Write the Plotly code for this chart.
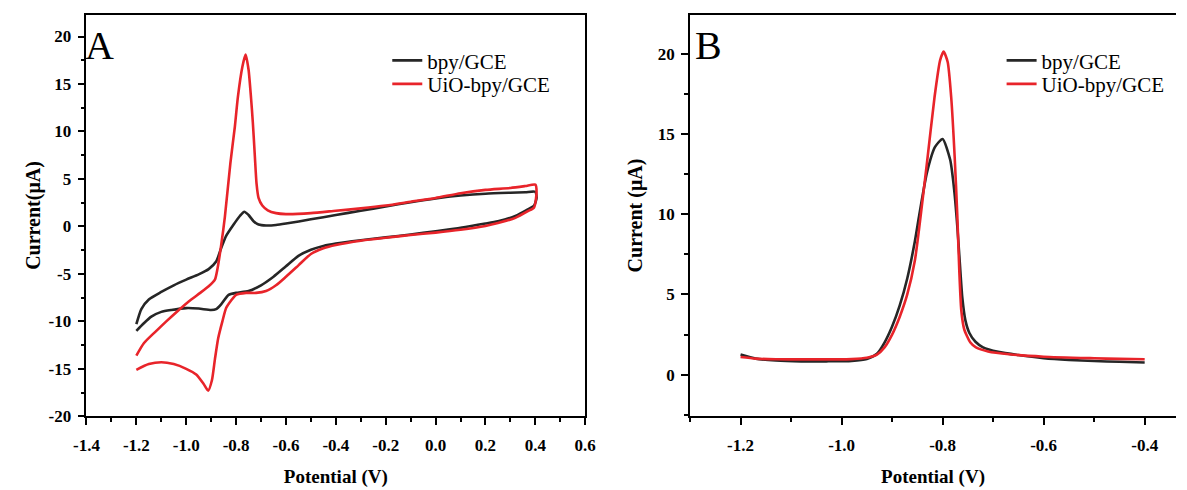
import plotly.graph_objects as go

# ---------------- Panel A: cyclic voltammograms ----------------
cv_bpy_V = [-1.2, -1.18, -1.15, -1.1, -1.05, -1.0, -0.95, -0.91, -0.88, -0.86, -0.84, -0.81, -0.785,
            -0.767, -0.75, -0.73, -0.71, -0.68, -0.64, -0.6, -0.5, -0.4, -0.3, -0.2, -0.1, 0.0, 0.1,
            0.2, 0.3, 0.36, 0.4,
            0.405, 0.395, 0.37, 0.32, 0.25, 0.2, 0.1, 0.0, -0.1, -0.2, -0.3, -0.4, -0.45, -0.5, -0.55,
            -0.6, -0.65, -0.7, -0.75, -0.8, -0.83, -0.86, -0.88, -0.9, -0.95, -1.0, -1.06, -1.1, -1.14,
            -1.17, -1.2]
cv_bpy_I = [-10.3, -8.7, -7.7, -6.9, -6.2, -5.6, -5.05, -4.5, -3.7, -2.3, -1.0, 0.2, 1.1,
            1.55, 1.2, 0.55, 0.2, 0.1, 0.15, 0.3, 0.75, 1.2, 1.65, 2.1, 2.55, 2.95, 3.25,
            3.45, 3.55, 3.6, 3.65,
            3.0, 2.2, 1.8, 1.1, 0.55, 0.3, -0.15, -0.5, -0.85, -1.15, -1.45, -1.8, -2.05, -2.45, -3.1,
            -4.2, -5.3, -6.2, -6.8, -7.0, -7.2, -8.2, -8.7, -8.8, -8.65, -8.6, -8.8, -9.0, -9.5,
            -10.2, -11.0]

cv_uio_V = [-1.2, -1.17, -1.124, -1.08, -1.034, -0.99, -0.944, -0.91, -0.885, -0.875, -0.86, -0.845,
            -0.823, -0.805, -0.793, -0.775, -0.762, -0.75, -0.74, -0.733, -0.725, -0.718, -0.71, -0.695,
            -0.673, -0.64, -0.6, -0.5, -0.4, -0.3, -0.2, -0.1, 0.0, 0.1, 0.2, 0.3, 0.36, 0.4,
            0.405, 0.395, 0.37, 0.32, 0.25, 0.2, 0.1, 0.0, -0.1, -0.2, -0.3, -0.4, -0.45, -0.5, -0.55,
            -0.6, -0.64, -0.68, -0.72, -0.76, -0.8, -0.82, -0.84, -0.855, -0.872, -0.885, -0.897,
            -0.912, -0.93, -0.96, -1.0, -1.05, -1.1, -1.15, -1.2]
cv_uio_I = [-13.6, -12.3, -11.1, -10.0, -8.9, -7.9, -7.0, -6.3, -5.6, -4.5, -2.0, 1.0,
            6.65, 10.5, 13.6, 16.8, 18.1, 16.5, 13.5, 11.0, 7.5, 4.5, 3.0, 2.2,
            1.7, 1.4, 1.3, 1.4, 1.65, 1.9, 2.2, 2.6, 3.0, 3.5, 3.85, 4.05, 4.25, 4.4,
            3.6, 2.0, 1.6, 0.9, 0.35, 0.05, -0.35, -0.65, -0.9, -1.2, -1.5, -1.95, -2.3, -2.9, -4.1,
            -5.3, -6.2, -6.8, -7.0, -7.0, -7.2, -7.8, -8.6, -10.0, -11.8, -14.0, -16.2,
            -17.3, -16.6, -15.6, -15.0, -14.5, -14.3, -14.5, -15.1]

# ---------------- Panel B: differential pulse voltammograms ----------------
dpv_bpy_V = [-1.2, -1.17, -1.13, -1.08, -1.03, -0.98, -0.95, -0.93, -0.915, -0.9, -0.885, -0.87,
             -0.855, -0.846, -0.831, -0.815, -0.8, -0.785, -0.777, -0.771, -0.766, -0.761, -0.755,
             -0.747, -0.735, -0.72, -0.69, -0.65, -0.6, -0.55, -0.5, -0.45, -0.4]
dpv_bpy_I = [1.25, 1.0, 0.88, 0.83, 0.83, 0.86, 0.98, 1.3, 2.0, 3.0, 4.3, 6.0,
             8.3, 10.0, 12.6, 14.2, 14.7, 13.4, 11.5, 9.3, 7.0, 4.8, 3.4,
             2.6, 2.05, 1.7, 1.42, 1.22, 1.03, 0.92, 0.85, 0.8, 0.76]

dpv_uio_V = [-1.2, -1.17, -1.13, -1.08, -1.03, -0.98, -0.95, -0.93, -0.915, -0.9, -0.885, -0.87,
             -0.855, -0.845, -0.831, -0.816, -0.805, -0.798, -0.79, -0.783, -0.776, -0.771, -0.767,
             -0.763, -0.757, -0.745, -0.734, -0.71, -0.668, -0.6, -0.5, -0.45, -0.4]
dpv_uio_I = [1.1, 1.0, 0.96, 0.95, 0.95, 0.97, 1.05, 1.25, 1.7, 2.5, 3.6, 5.0,
             7.1, 9.5, 13.2, 17.3, 19.6, 20.15, 19.5, 17.3, 13.5, 10.0, 6.5,
             4.0, 2.8, 2.0, 1.7, 1.45, 1.27, 1.12, 1.02, 0.98, 0.96]

series_names = ["bpy/GCE", "UiO-bpy/GCE"]
colors = ["#262626", "#e8242a"]

# tick labels (ASCII hyphen as in the original figure)
xA_ticks = [-1.4, -1.2, -1.0, -0.8, -0.6, -0.4, -0.2, 0.0, 0.2, 0.4, 0.6]
xA_labels = ["-1.4", "-1.2", "-1.0", "-0.8", "-0.6", "-0.4", "-0.2", "0.0", "0.2", "0.4", "0.6"]
yA_ticks = [-20, -15, -10, -5, 0, 5, 10, 15, 20]
yA_labels = ["-20", "-15", "-10", "-5", "0", "5", "10", "15", "20"]
xB_ticks = [-1.2, -1.0, -0.8, -0.6, -0.4]
xB_labels = ["-1.2", "-1.0", "-0.8", "-0.6", "-0.4"]
yB_ticks = [0, 5, 10, 15, 20]
yB_labels = ["0", "5", "10", "15", "20"]

W, H = 1187, 490
SERIF = "Liberation Serif"


def px_x(p):
    return p / W


def px_y(p):
    return 1 - p / H


fig = go.Figure()
line_kw = dict(shape="spline", smoothing=0.6, width=2.6)

fig.add_trace(go.Scatter(x=cv_bpy_V, y=cv_bpy_I, mode="lines", name=series_names[0],
                         line=dict(color=colors[0], **line_kw), xaxis="x", yaxis="y", legend="legend"))
fig.add_trace(go.Scatter(x=cv_uio_V, y=cv_uio_I, mode="lines", name=series_names[1],
                         line=dict(color=colors[1], **line_kw), xaxis="x", yaxis="y", legend="legend3"))
fig.add_trace(go.Scatter(x=dpv_bpy_V, y=dpv_bpy_I, mode="lines", name=series_names[0],
                         line=dict(color=colors[0], **line_kw), xaxis="x2", yaxis="y2", legend="legend2"))
fig.add_trace(go.Scatter(x=dpv_uio_V, y=dpv_uio_I, mode="lines", name=series_names[1],
                         line=dict(color=colors[1], **line_kw), xaxis="x2", yaxis="y2", legend="legend4"))

tickfont = dict(family=SERIF, size=17, color="black", weight="bold")
xtitlefont = dict(family=SERIF, size=19, color="black", weight="bold")
ytitlefont = dict(family=SERIF, size=20, color="black", weight="bold")
minor_kw = dict(ticks="outside", ticklen=4, tickwidth=1.5, tickcolor="black")


def axis_common(standoff):
    return dict(showgrid=False, zeroline=False, showline=True, linecolor="black", linewidth=1.8,
                ticks="outside", ticklen=7, tickwidth=1.6, tickcolor="black", tickfont=tickfont,
                ticklabelstandoff=standoff)


ydom = [px_y(425), px_y(15)]

legend_font = dict(family=SERIF, size=21, color="black")


def make_legend(xpx, ypx):
    return dict(x=px_x(xpx), y=px_y(ypx), xanchor="left", yanchor="middle", font=legend_font,
                bgcolor="rgba(0,0,0,0)", itemwidth=30, tracegroupgap=0)


fig.update_layout(
    width=W, height=H,
    margin=dict(l=0, r=0, t=0, b=0),
    paper_bgcolor="white", plot_bgcolor="white",
    xaxis=dict(domain=[px_x(75), px_x(584)], range=[-1.4, 0.6], tickvals=xA_ticks, ticktext=xA_labels,
               mirror=True, anchor="y", minor=dict(dtick=0.1, **minor_kw),
               title=dict(text="Potential (V)", font=xtitlefont, standoff=16),
               **axis_common(5)),
    yaxis=dict(domain=ydom, range=[-20, 22.3], tickvals=yA_ticks, ticktext=yA_labels,
               mirror=True, anchor="x", minor=dict(dtick=2.5, **minor_kw),
               title=dict(text="Current(μA)", font=ytitlefont, standoff=3),
               **axis_common(3)),
    xaxis2=dict(domain=[px_x(691), 1.0], range=[-1.3, -0.338], tickvals=xB_ticks, ticktext=xB_labels,
                mirror=True, anchor="y2", minor=dict(dtick=0.1, tick0=-1.2, **minor_kw),
                title=dict(text="Potential (V)", font=xtitlefont, standoff=16),
                **axis_common(5)),
    yaxis2=dict(domain=ydom, range=[-2.6, 22.45], tickvals=yB_ticks, ticktext=yB_labels,
                anchor="x2", minor=dict(dtick=2.5, tick0=0, **minor_kw),
                title=dict(text="Current (μA)", font=ytitlefont, standoff=10),
                **axis_common(3)),
    legend=make_legend(382, 62),
    legend3=make_legend(382, 86),
    legend2=make_legend(1009, 62),
    legend4=make_legend(1009, 86),
    showlegend=True,
    annotations=[
        dict(text="A", xref="x domain", yref="y domain", x=-0.006, y=0.985, xanchor="left",
             yanchor="top", showarrow=False, font=dict(family=SERIF, size=40, color="black")),
        dict(text="B", xref="x2 domain", yref="y2 domain", x=0.006, y=0.985, xanchor="left",
             yanchor="top", showarrow=False, font=dict(family=SERIF, size=40, color="black")),
    ],
)

fig.write_html("out.html")
